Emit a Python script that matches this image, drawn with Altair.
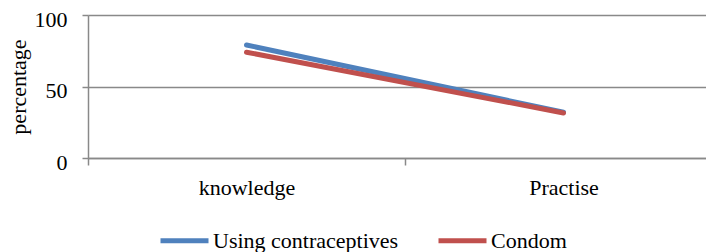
import altair as alt
import pandas as pd

stages = ["knowledge", "Practise"]
series = ["Using contraceptives", "Condom"]
using_vals = [79, 32]
condom_vals = [74, 31.5]
colors = ["#4F81BD", "#C0504D"]

rows = []
for s, vals in zip(series, [using_vals, condom_vals]):
    for st, v in zip(stages, vals):
        rows.append({"stage": st, "series": s, "value": v})
df = pd.DataFrame(rows)

FONT = "Liberation Serif"
GRID = "#898989"

x = alt.X(
    "stage:N",
    sort=stages,
    scale=alt.Scale(type="band", paddingInner=0, paddingOuter=0, range=[0, 634]),
    bandPosition=0.5,
    axis=alt.Axis(
        title=None, labelAngle=0, labelFont=FONT, labelFontSize=22,
        labelColor="black", labelPadding=12, tickSize=7, tickColor=GRID,
        tickWidth=1.5, domainColor=GRID, domainWidth=1.5, tickBand="extent",
        grid=False,
    ),
)
y = alt.Y(
    "value:Q",
    scale=alt.Scale(domain=[0, 100]),
    axis=alt.Axis(
        title="percentage", values=[0, 50, 100], labelFont=FONT,
        labelFontSize=22, labelColor="black", labelPadding=15, tickSize=6,
        tickColor=GRID, tickWidth=1.5, labelOffset=4, titleFont=FONT,
        titleFontSize=22, titleFontWeight="normal", titleColor="black",
        titlePadding=4, gridColor=GRID, gridWidth=1.5, domainColor=GRID,
        domainWidth=1.5,
    ),
)
color = alt.Color(
    "series:N",
    scale=alt.Scale(domain=series, range=colors),
    legend=alt.Legend(
        title=None, orient="none", legendX=70, legendY=199,
        direction="horizontal", symbolType="stroke", symbolSize=2304,
        symbolStrokeWidth=5, labelFont=FONT, labelFontSize=22,
        labelColor="black", columnPadding=29, labelOffset=2, padding=0,
        labelLimit=400,
    ),
)

base = alt.Chart(df).encode(x=x, y=y, color=color)
blue = base.transform_filter(alt.datum.series == series[0]).mark_line(strokeWidth=5, strokeCap="round")
red = base.transform_filter(alt.datum.series == series[1]).mark_line(strokeWidth=5, strokeCap="round")

chart = alt.layer(blue, red).properties(
    width=618, height=143,
    autosize=alt.AutoSizeParams(type="none"),
    padding={"left": 80, "top": 7, "right": 0, "bottom": 94},
).configure_view(stroke=None)
chart.save("out.html", embed_options={"renderer": "svg", "actions": False})
